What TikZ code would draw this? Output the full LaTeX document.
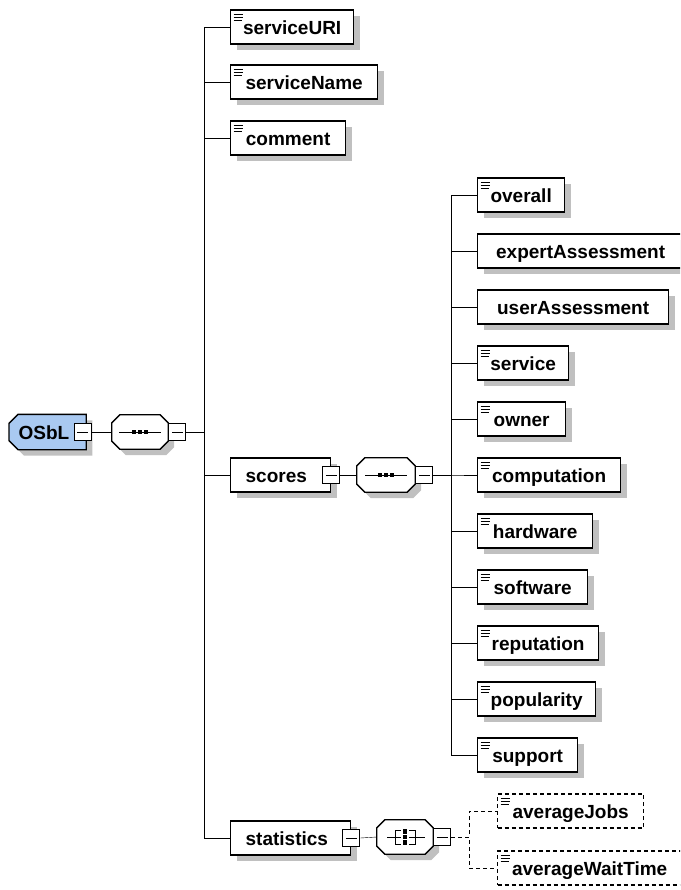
\documentclass[tikz,border=0pt]{standalone}
\usepackage{fontspec}
\setmainfont{Liberation Sans}
\usetikzlibrary{shadows}
\definecolor{rootblue}{RGB}{169,201,241}
\definecolor{shadowgray}{RGB}{192,192,192}
\pgfdeclarelayer{background}
\pgfsetlayers{background,main}
\tikzset{
  schemanode/.style = {line width=1.3pt, inner sep=0pt,
    minimum height=34pt, text height=15pt, text depth=0pt,
    font=\bfseries\fontsize{19}{19}\selectfont},
  boxshadow/.style = {drop shadow={shadow xshift=6pt, shadow yshift=-6pt,
    fill=shadowgray, opacity=1}},
  field_node/.style = {schemanode, draw=black, fill=white, boxshadow,
    rectangle, anchor=west, minimum width=#1},% element sans enfants
  opt_node/.style = {schemanode, draw=black, fill=white, rectangle,
    anchor=west, minimum width=#1, dash pattern=on 4pt off 3pt},% element optionnel
  group_node/.style = {schemanode, draw=black, fill=white, boxshadow,
    rectangle, anchor=west, text width=#1, align=left,
    inner xsep=15pt},% element avec enfants
  root_node/.style = {schemanode, rectangle, anchor=west, text width=#1,
    align=left, inner xsep=9pt},% element racine, contour dessine a part
  comp_node/.style = {rectangle, inner sep=0pt, minimum width=#1,
    minimum height=34pt},% compositeur, contour dessine a part
  outline/.style = {draw=black, line width=1.3pt, fill=#1, boxshadow},
  docicon/.style = {path picture={
      \draw[solid, line width=0.9pt]
        ([shift={(3pt,-4pt)}]path picture bounding box.north west) -- ++(9pt,0pt)
        ([shift={(3pt,-7pt)}]path picture bounding box.north west) -- ++(9pt,0pt)
        ([shift={(3pt,-10pt)}]path picture bounding box.north west) -- ++(8pt,0pt);}},
  minus_node/.style = {draw=black, line width=1.2pt, fill=white, inner sep=0pt,
    minimum size=17pt, path picture={
      \draw[line width=1pt] ([xshift=3pt]path picture bounding box.west)
        -- ([xshift=-3pt]path picture bounding box.east);}}
}
% contour de l'element racine (coins gauches coupes)
\newcommand\rootoutline[1]{%
  \begin{pgfonlayer}{background}
    \draw[outline=rootblue] ([xshift=9pt]#1.north west) -- (#1.north east)
      -- (#1.south east) -- ([xshift=9pt]#1.south west)
      -- ([yshift=9pt]#1.south west) -- ([yshift=-9pt]#1.north west) -- cycle;
  \end{pgfonlayer}}
% octogone d'un compositeur
\newcommand\compoutline[1]{%
  \begin{pgfonlayer}{background}
    \draw[outline=white] ([xshift=8pt]#1.north west) -- ([xshift=-8pt]#1.north east)
      -- ([yshift=-8pt]#1.north east) -- ([yshift=8pt]#1.south east)
      -- ([xshift=-8pt]#1.south east) -- ([xshift=8pt]#1.south west)
      -- ([yshift=8pt]#1.south west) -- ([yshift=-8pt]#1.north west) -- cycle;
  \end{pgfonlayer}}
% symbole sequence
\newcommand\seqsymbol[1]{%
  \begin{scope}[shift={(#1.center)}, x=1pt, y=1pt]
    \draw[line width=1pt] (-21,0) -- (21,0);
    \foreach \d in {-6,0,6}
      \fill (\d-2.4,-2.4) rectangle (\d+2.4,2.4);
  \end{scope}}
% symbole all
\newcommand\allsymbol[1]{%
  \begin{scope}[shift={(#1.center)}, x=1pt, y=1pt]
    \draw[line width=1pt] (-18,0) -- (-4,0)
      (-4,7) -- (-10,7) -- (-10,-7) -- (-4,-7)
      (4,7) -- (10,7) -- (10,-7) -- (4,-7)
      (4,0) -- (20,0);
    \foreach \d in {-5.5,0,5.5}
      \fill (-2.2,\d-2.2) rectangle (2.2,\d+2.2);
  \end{scope}}

\begin{document}
\begin{tikzpicture}[x=1pt, y=-1pt, line width=1.2pt]
  \useasboundingbox (0,0) rectangle (680,890);
  \clip (0,0) rectangle (680,890);
  % racine
  \node [root_node=58pt] (osbl) at (9,432) {OSbL};
  \rootoutline{osbl}
  \node [minus_node] (osbl_m) at ([xshift=-3.5pt]osbl.east) {};
  \node [comp_node=56pt] (osbl_seq) at (140,432) {};
  \compoutline{osbl_seq}
  \seqsymbol{osbl_seq}
  \node [minus_node, anchor=west] (osbl_seq_m) at (osbl_seq.east) {};
  % enfants de OSbL
  \node [field_node=123pt, docicon] (uri) at (230,27) {serviceURI};
  \node [field_node=147pt, docicon] (name) at (230,82) {serviceName};
  \node [field_node=115pt, docicon] (comment) at (230,138) {comment};
  \node [group_node=70pt] (scores) at (230,475) {scores};
  \node [minus_node] (scores_m) at (scores.east) {};
  \node [comp_node=58pt] (scores_seq) at (386,475) {};
  \compoutline{scores_seq}
  \seqsymbol{scores_seq}
  \node [minus_node, anchor=west] (scores_seq_m) at (scores_seq.east) {};
  \node [group_node=90pt] (statistics) at (230,838) {statistics};
  \node [minus_node] (statistics_m) at (statistics.east) {};
  \node [comp_node=56pt] (statistics_all) at (405,837) {};
  \compoutline{statistics_all}
  \allsymbol{statistics_all}
  \node [minus_node, anchor=west] (statistics_all_m) at (statistics_all.east) {};
  % enfants de scores
  \node [field_node=87pt, docicon] (overall) at (477,195) {overall};
  \node [field_node=206pt] (expert) at (477,251) {expertAssessment};
  \node [field_node=191pt] (user) at (477,307) {userAssessment};
  \node [field_node=91pt, docicon] (service) at (477,363) {service};
  \node [field_node=88pt, docicon] (owner) at (477,419) {owner};
  \node [field_node=143pt, docicon] (computation) at (477,475) {computation};
  \node [field_node=115pt, docicon] (hardware) at (477,531) {hardware};
  \node [field_node=110pt, docicon] (software) at (477,587) {software};
  \node [field_node=121pt, docicon] (reputation) at (477,643) {reputation};
  \node [field_node=118pt, docicon] (popularity) at (477,699) {popularity};
  \node [field_node=100pt, docicon] (support) at (477,755) {support};
  % enfants de statistics
  \node [opt_node=146pt, docicon] (avgjobs) at (497,811) {averageJobs};
  \node [opt_node=184pt, docicon] (avgwait) at (497,868) {averageWaitTime};

  \draw (osbl_m.east) -- (osbl_seq.west);
  \draw (scores_m.east) -- (scores_seq.west);
  \draw (statistics_m.east) -- (statistics_all.west);
  \foreach \c in {uri, name, comment, scores, statistics}
    \draw (osbl_seq_m.east) -- ++(18,0) |- (\c.west);
  \foreach \c in {overall, expert, user, service, owner, computation,
      hardware, software, reputation, popularity, support}
    \draw (scores_seq_m.east) -- ++(18,0) |- (\c.west);
  \foreach \c in {avgjobs, avgwait}
    \draw[dash pattern=on 4pt off 3pt] (statistics_all_m.east) -- ++(18,0) |- (\c.west);
\end{tikzpicture}
\end{document}
